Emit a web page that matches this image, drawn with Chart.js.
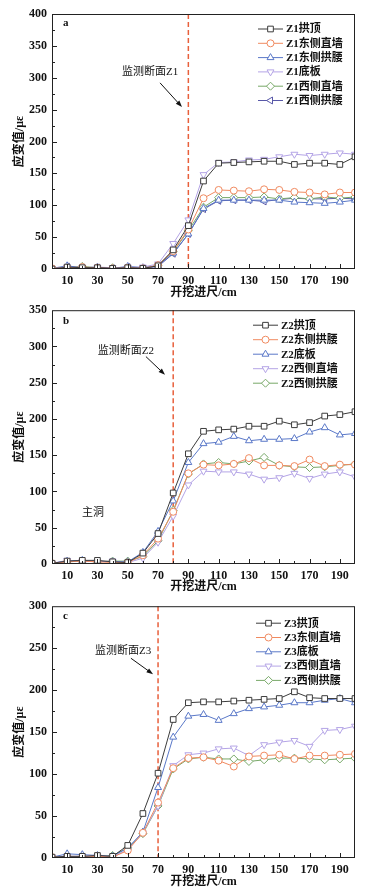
<!DOCTYPE html>
<html>
<head>
<meta charset="utf-8">
<script src="https://cdn.jsdelivr.net/npm/chart.js@4.4.0/dist/chart.umd.min.js"></script>
<style>
  body { margin: 0; background: #fff; width: 375px; height: 895px; overflow: hidden; position: relative; }
  canvas { position: absolute; left: 0; }
</style>
</head>
<body>
<canvas id="chartA" width="375" height="300" style="top:0"></canvas>
<canvas id="chartB" width="375" height="296" style="top:298px"></canvas>
<canvas id="chartC" width="375" height="301" style="top:594px"></canvas>
<script>
// excavation advance (cm)
const advance = [0, 10, 20, 30, 40, 50, 60, 70, 80, 90, 100, 110, 120, 130, 140, 150, 160, 170, 180, 190, 200];
const xTickLabels = [10, 30, 50, 70, 90, 110, 130, 150, 170, 190];

// section Z1
const z1Labels = ['Z1拱顶', 'Z1东侧直墙', 'Z1东侧拱腰', 'Z1底板', 'Z1西侧直墙', 'Z1西侧拱腰'];
const z1Crown      = [0, 3, 2, 2, 1, 2, 1, 5, 30, 68, 138, 166, 167, 168, 169, 169, 164, 166, 166, 164, 176];
const z1EastWall   = [1, 2, 3, 2, 1, 2, 1, 6, 28, 62, 111, 124, 123, 122, 125, 124, 121, 120, 117, 120, 120];
const z1EastHaunch = [1, 5, 2, 3, 1, 4, 2, 5, 25, 55, 95, 108, 108, 108, 108, 108, 105, 104, 103, 105, 108];
const z1Floor      = [1, 3, 2, 3, 2, 3, 3, 8, 40, 77, 148, 167, 168, 171, 172, 176, 180, 178, 180, 182, 180];
const z1WestWall   = [1, 2, 4, 2, 2, 2, 1, 6, 27, 60, 97, 112, 112, 112, 113, 110, 112, 110, 113, 111, 113];
const z1WestHaunch = [0, 4, 2, 2, 1, 3, 1, 4, 24, 55, 94, 107, 108, 108, 106, 109, 111, 110, 110, 111, 110];

// section Z2
const z2Labels = ['Z2拱顶', 'Z2东侧拱腰', 'Z2底板', 'Z2西侧直墙', 'Z2西侧拱腰'];
const z2Crown      = [1, 4, 5, 5, 3, 2, 15, 42, 98, 152, 183, 185, 186, 190, 190, 197, 192, 195, 204, 206, 210];
const z2EastHaunch = [1, 3, 4, 3, 2, 2, 12, 35, 72, 125, 137, 136, 138, 146, 136, 136, 135, 144, 135, 137, 137];
const z2Floor      = [1, 4, 5, 4, 3, 3, 16, 45, 87, 140, 166, 168, 176, 170, 172, 172, 173, 182, 188, 178, 180];
const z2WestWall   = [1, 5, 4, 3, 4, 2, 8, 30, 66, 109, 128, 127, 127, 124, 117, 119, 125, 118, 124, 127, 120];
const z2WestHaunch = [1, 3, 4, 3, 4, 4, 10, 32, 74, 124, 138, 140, 138, 142, 147, 136, 134, 133, 134, 136, 138];

// section Z3
const z3Labels = ['Z3拱顶', 'Z3东侧直墙', 'Z3底板', 'Z3西侧直墙', 'Z3西侧拱腰'];
const z3Crown      = [1, 2, 2, 3, 2, 15, 53, 101, 165, 185, 186, 186, 187, 188, 189, 190, 198, 191, 190, 190, 190];
const z3EastWall   = [1, 1, 1, 2, 1, 9, 30, 66, 107, 119, 120, 116, 109, 121, 122, 123, 118, 122, 122, 123, 124];
const z3Floor      = [1, 5, 4, 3, 2, 12, 31, 84, 144, 169, 171, 164, 172, 178, 180, 182, 185, 185, 188, 190, 185];
const z3WestWall   = [1, 2, 2, 2, 1, 10, 30, 62, 110, 123, 125, 130, 131, 122, 135, 138, 140, 133, 152, 153, 157];
const z3WestHaunch = [1, 1, 1, 1, 3, 12, 29, 62, 106, 118, 120, 118, 118, 115, 117, 119, 119, 118, 117, 118, 119];

// marker / colour per series slot
const styles = [
  { color: '#3c3c3c', point: 'rect', rot: 0, r: 4 },
  { color: '#f08a60', point: 'circle', rot: 0, r: 3.5 },
  { color: '#5a78c8', point: 'triangle', rot: 0, r: 4 },
  { color: '#b4a4e6', point: 'triangle', rot: 180, r: 4 },
  { color: '#78a868', point: 'rectRot', rot: 0, r: 4 },
  { color: '#5858a8', point: 'triangle', rot: 270, r: 4 }
];

const serif = '"Liberation Serif", "Noto Sans CJK SC", serif';
Chart.defaults.font.family = serif;
Chart.defaults.color = '#111';

const panelPlugin = {
  id: 'panel',
  beforeDatasetsDraw(chart, args, o) {
    const { ctx, chartArea: a, scales: { x } } = chart;
    const px = x.getPixelForValue(o.section);
    ctx.save();
    ctx.strokeStyle = '#e8603c';
    ctx.lineWidth = 1.5;
    ctx.setLineDash([5, 3]);
    ctx.beginPath();
    ctx.moveTo(px, a.top);
    ctx.lineTo(px, a.bottom);
    ctx.stroke();
    ctx.restore();
  },
  afterDraw(chart, args, o) {
    const { ctx, chartArea: a, scales: { x, y } } = chart;
    ctx.save();
    // frame
    ctx.strokeStyle = '#222';
    ctx.lineWidth = 1;
    ctx.strokeRect(a.left + 0.5, a.top + 0.5, a.right - a.left - 1, a.bottom - a.top - 1);
    // inward ticks
    ctx.beginPath();
    for (let v = 10; v < 200; v += 10) {
      const px = Math.round(x.getPixelForValue(v)) + 0.5;
      const len = (v / 10) % 2 === 1 ? 5 : 3;
      ctx.moveTo(px, a.bottom);
      ctx.lineTo(px, a.bottom - len);
    }
    for (let v = 25; v < y.max; v += 25) {
      const py = Math.round(y.getPixelForValue(v)) + 0.5;
      const len = v % 50 === 0 ? 5 : 3;
      ctx.moveTo(a.left, py);
      ctx.lineTo(a.left + len, py);
    }
    ctx.stroke();

    // panel letter, annotation text
    ctx.fillStyle = '#111';
    ctx.textBaseline = 'middle';
    ctx.textAlign = 'left';
    ctx.font = 'bold 11px ' + serif;
    ctx.fillText(o.letter, x.getPixelForValue(o.letterAt[0]), y.getPixelForValue(o.letterAt[1]));
    ctx.textAlign = 'center';
    ctx.font = '11px ' + serif;
    ctx.fillText(o.note, x.getPixelForValue(o.noteAt[0]), y.getPixelForValue(o.noteAt[1]));
    if (o.extra) {
      ctx.fillText(o.extra, x.getPixelForValue(o.extraAt[0]), y.getPixelForValue(o.extraAt[1]));
    }

    // arrow
    const x1 = x.getPixelForValue(o.arrow[0]), y1 = y.getPixelForValue(o.arrow[1]);
    const x2 = x.getPixelForValue(o.arrow[2]), y2 = y.getPixelForValue(o.arrow[3]);
    const ang = Math.atan2(y2 - y1, x2 - x1);
    ctx.strokeStyle = '#111';
    ctx.beginPath();
    ctx.moveTo(x1, y1);
    ctx.lineTo(x2 - 5 * Math.cos(ang), y2 - 5 * Math.sin(ang));
    ctx.stroke();
    ctx.beginPath();
    ctx.moveTo(x2, y2);
    ctx.lineTo(x2 - 7 * Math.cos(ang - 0.35), y2 - 7 * Math.sin(ang - 0.35));
    ctx.lineTo(x2 - 7 * Math.cos(ang + 0.35), y2 - 7 * Math.sin(ang + 0.35));
    ctx.closePath();
    ctx.fillStyle = '#111';
    ctx.fill();

    // legend inside the plot
    const lx = a.right - o.legendRight;
    chart.data.datasets.forEach((ds, i) => {
      const ly = a.top + o.legendTop + i * o.legendGap;
      ctx.strokeStyle = ds.borderColor;
      ctx.lineWidth = 1;
      ctx.beginPath();
      ctx.moveTo(lx, ly);
      ctx.lineTo(lx + 25, ly);
      ctx.stroke();
      ctx.fillStyle = '#fff';
      Chart.helpers.drawPoint(ctx, {
        pointStyle: ds.pointStyle, rotation: ds.pointRotation,
        radius: ds.pointRadius, borderWidth: 1
      }, lx + 12.5, ly);
      ctx.fillStyle = '#111';
      ctx.textAlign = 'left';
      ctx.font = 'bold 11px ' + serif;
      ctx.fillText(ds.label, lx + 28, ly + 0.5);
    });
    ctx.restore();
  }
};

function makePanel(id, labels, series, yMax, padTop, xHeight, titlePad, extra) {
  const datasets = series.map((vals, i) => {
    const s = styles[i];
    return {
      label: labels[i],
      data: advance.map((a, k) => ({ x: a, y: vals[k] })),
      borderColor: s.color,
      backgroundColor: '#fff',
      borderWidth: 1,
      pointStyle: s.point,
      pointRotation: s.rot,
      pointRadius: s.r,
      pointBorderWidth: 1,
      tension: 0
    };
  });
  return new Chart(document.getElementById(id), {
    type: 'line',
    data: { datasets },
    plugins: [panelPlugin],
    options: {
      responsive: false,
      animation: false,
      layout: { padding: { top: padTop, right: 20, left: 0, bottom: 0 } },
      plugins: {
        legend: { display: false },
        tooltip: { enabled: false },
        panel: extra
      },
      scales: {
        x: {
          type: 'linear', min: 0, max: 200,
          grid: { display: false, drawTicks: false },
          border: { display: false },
          ticks: {
            stepSize: 10, padding: 5, autoSkip: false, maxRotation: 0,
            font: { size: 12, weight: 'bold' },
            callback: v => xTickLabels.includes(v) ? v : ''
          },
          title: {
            display: true, text: '开挖进尺/cm',
            font: { size: 12, weight: 'bold' },
            padding: { top: 0, bottom: titlePad }
          },
          afterFit: s => { s.height = xHeight; }
        },
        y: {
          min: 0, max: yMax,
          grid: { display: false, drawTicks: false },
          border: { display: false },
          ticks: { stepSize: 50, padding: 5, font: { size: 12, weight: 'bold' } },
          title: {
            display: true, text: '应变值/με',
            font: { size: 12, weight: 'bold' },
            padding: { top: 13, bottom: 0 }
          },
          afterFit: s => { s.width = 52; }
        }
      }
    }
  });
}

makePanel('chartA', z1Labels,
  [z1Crown, z1EastWall, z1EastHaunch, z1Floor, z1WestWall, z1WestHaunch],
  400, 14, 31, 0, {
    section: 90, letter: 'a', letterAt: [7.3, 386],
    note: '监测断面Z1', noteAt: [64.7, 309],
    arrow: [71.3, 292, 85.8, 254],
    legendRight: 97, legendTop: 15, legendGap: 14.3
  });

makePanel('chartB', z2Labels,
  [z2Crown, z2EastHaunch, z2Floor, z2WestWall, z2WestHaunch],
  350, 10, 30, 0, {
    section: 80, letter: 'b', letterAt: [7.3, 335],
    note: '监测断面Z2', noteAt: [48.8, 294],
    extra: '主洞', extraAt: [27, 70],
    arrow: [62, 286, 74.6, 261],
    legendRight: 102, legendTop: 15, legendGap: 14.5
  });

makePanel('chartC', z3Labels,
  [z3Crown, z3EastWall, z3Floor, z3WestWall, z3WestHaunch],
  300, 8, 37, 6, {
    section: 70, letter: 'c', letterAt: [7.3, 288],
    note: '监测断面Z3', noteAt: [46.9, 247],
    arrow: [52.1, 238, 66.7, 219],
    legendRight: 99, legendTop: 17, legendGap: 14.3
  });
</script>
</body>
</html>
